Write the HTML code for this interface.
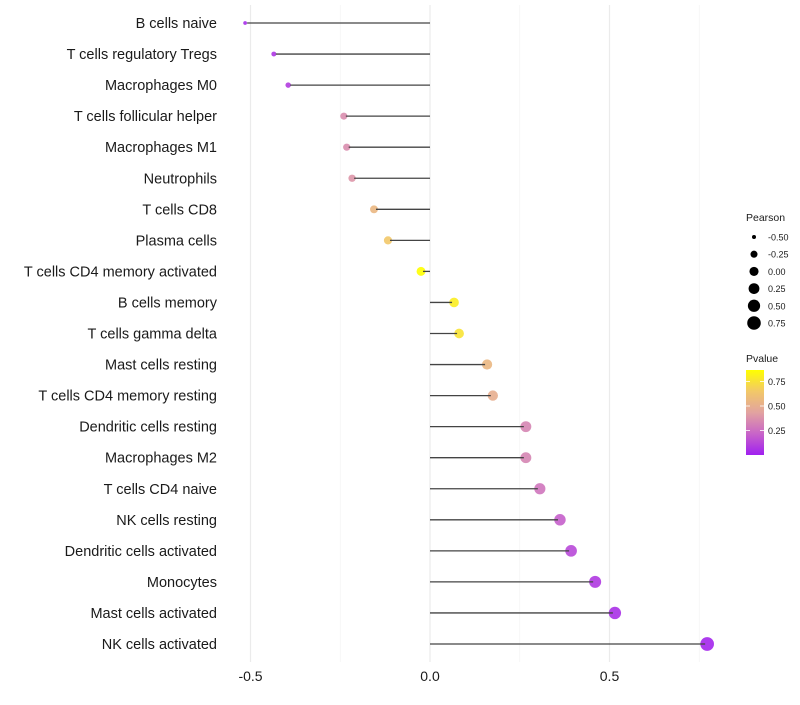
<!DOCTYPE html>
<html><head><meta charset="utf-8"><style>
body{margin:0;background:#fff;}
svg text{font-family:"Liberation Sans",sans-serif;}
</style></head><body>
<svg id="chart" width="800" height="700"></svg>
<script>
const categories=["B cells naive","T cells regulatory  Tregs","Macrophages M0","T cells follicular helper","Macrophages M1","Neutrophils","T cells CD8","Plasma cells","T cells CD4 memory activated","B cells memory","T cells gamma delta","Mast cells resting","T cells CD4 memory resting","Dendritic cells resting","Macrophages M2","T cells CD4 naive","NK cells resting","Dendritic cells activated","Monocytes","Mast cells activated","NK cells activated"];
const pearson=[-0.515,-0.435,-0.395,-0.24,-0.232,-0.217,-0.156,-0.117,-0.025,0.067,0.081,0.159,0.175,0.267,0.267,0.306,0.362,0.393,0.46,0.515,0.772];
const pvalues=[0.04,0.07,0.09,0.36,0.36,0.39,0.55,0.65,0.87,0.8,0.76,0.55,0.5,0.33,0.33,0.28,0.2,0.13,0.08,0.05,0.02];
const xTicks=[-0.5,0,0.5];
const sizeLegend=[-0.5,-0.25,0,0.25,0.5,0.75];
const pLegend=[0.75,0.5,0.25];
const NS="http://www.w3.org/2000/svg";
const svg=document.getElementById('chart');
function xs(v){return 430+v*359;}
function ys(i){return 23+i*31.05;}
function rad(v){return Math.sqrt(Math.max(1,20.8+33.6*v));}
const stops=[[0,[160,32,240]],[0.25,[200,100,200]],[0.5,[226,163,160]],[0.75,[242,200,104]],[1,[255,255,0]]];
function col(p){let t=Math.min(1,Math.max(0,p/0.87));for(let i=1;i<stops.length;i++){if(t<=stops[i][0]){const a=stops[i-1],b=stops[i];const f=(t-a[0])/(b[0]-a[0]);const c=a[1].map((v,k)=>Math.round(v+(b[1][k]-v)*f));return `rgb(${c})`;}}return 'rgb(255,255,0)';}
function el(tag,attrs,txt){const e=document.createElementNS(NS,tag);for(const k in attrs)e.setAttribute(k,attrs[k]);if(txt!==undefined)e.textContent=txt;svg.appendChild(e);return e;}
[-0.5,-0.25,0,0.25,0.5,0.75].forEach(v=>{const g=el('line',{x1:xs(v),x2:xs(v),y1:5,y2:662,stroke:v%0.5===0?'#ebebeb':'#f5f5f5','stroke-width':v%0.5===0?1.2:0.8});

});
categories.forEach((c,i)=>{
 const t=el('text',{x:217,y:ys(i)+5,'text-anchor':'end','font-size':14.5,fill:'#1a1a1a'},c);
 
 
 const p=el('circle',{cx:xs(pearson[i]),cy:ys(i),r:rad(pearson[i]),fill:col(pvalues[i]),'fill-opacity':0.9});
 
 
 const l=el('line',{x1:xs(0),x2:xs(pearson[i])+(pearson[i]>0?-1:1)*2,y1:ys(i),y2:ys(i),stroke:'#444','stroke-width':1.3});
 
 
});
xTicks.forEach(v=>{const t=el('text',{x:xs(v),y:681,'text-anchor':'middle','font-size':14,fill:'#1a1a1a'},v===0?'0.0':String(v));

});
let t1=el('text',{x:746,y:221,'font-size':10.5,fill:'#1a1a1a'},'Pearson');


sizeLegend.forEach((v,i)=>{const y=237+i*17.2;
 const c=el('circle',{cx:754,cy:y,r:rad(v),fill:'#000'});
 
 
 const t=el('text',{x:768,y:y+3.5,'font-size':9,fill:'#1a1a1a'},v.toFixed(2));
 
 });
let t2=el('text',{x:746,y:362,'font-size':10.5,fill:'#1a1a1a'},'Pvalue');


const defs=el('defs',{});
const lg=document.createElementNS(NS,'linearGradient');lg.setAttribute('id','pg');lg.setAttribute('x1','0');lg.setAttribute('y1','1');lg.setAttribute('x2','0');lg.setAttribute('y2','0');defs.appendChild(lg);
stops.forEach(s=>{const st=document.createElementNS(NS,'stop');st.setAttribute('offset',s[0]);st.setAttribute('stop-color',`rgb(${s[1]})`);lg.appendChild(st);});
const bar=el('rect',{x:746,y:370,width:18,height:85,fill:'url(#pg)'});


pLegend.forEach(v=>{const y=455-v*98;
 el('line',{x1:746,x2:750,y1:y,y2:y,stroke:'#fff','stroke-width':0.8});el('line',{x1:760,x2:764,y1:y,y2:y,stroke:'#fff','stroke-width':0.8});
 const t=el('text',{x:768,y:y+3.5,'font-size':9,fill:'#1a1a1a'},v.toFixed(2));
 
 });
</script>
</body></html>
